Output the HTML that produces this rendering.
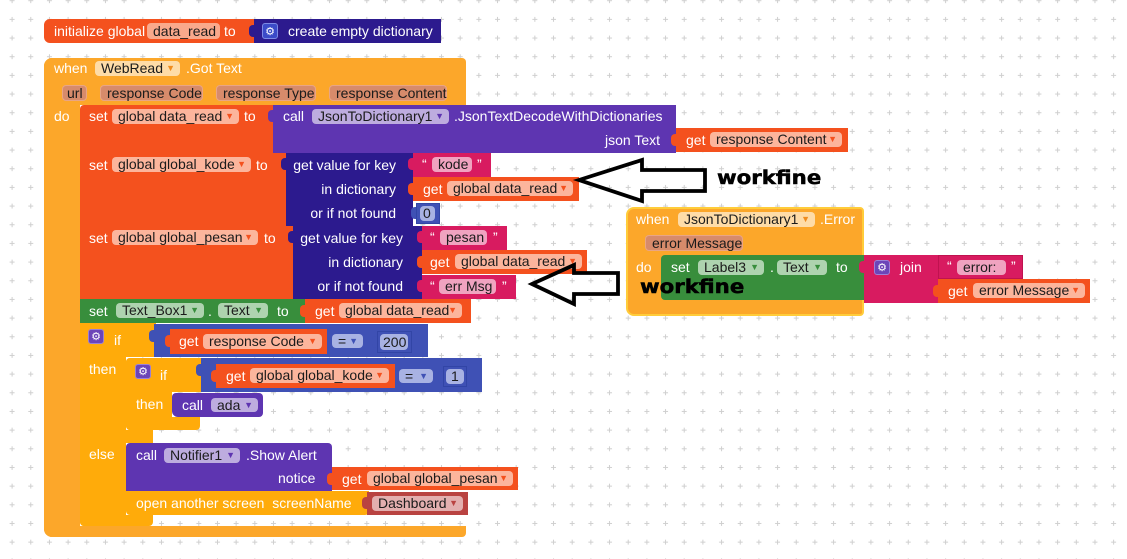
<!DOCTYPE html>
<html><head><meta charset="utf-8">
<style>
html,body{margin:0;padding:0}
body{width:1127px;height:559px;position:relative;overflow:hidden;background:#fff;font-family:"Liberation Sans",Arial,sans-serif}
.r{position:absolute;box-sizing:border-box}
.l{position:absolute;color:#fff;font-size:14px;line-height:16px;white-space:nowrap}
.rt{text-align:right}
.c{position:absolute;box-sizing:border-box;border-radius:4px;color:#1b1b1b;font-size:14px;white-space:nowrap;padding-left:6px}
.c i{position:absolute;right:5px;top:0;font-style:normal;font-size:9px}
.tab{position:absolute;width:6px;height:12px;border-radius:4px 0 0 4px}
.E{background:#FCA72A}.C{background:#FFAB0A}.V{background:#F4511E}.P{background:#5E35B1}
.D{background:#2C1A8E}.T{background:#D81B60}.M{background:#3F51B5}.G{background:#388E3C}.R{background:#B94341}
.cV{background:#FCB59C}.cV i{color:#F4511E}
.cE{background:#FEDCA8}.cE i{color:#F08C1E}
.cPar{background:#D78B6B;border:1px solid #E9A585}
.cP{background:#BDACDF}.cP i{color:#5E35B1}
.cT{background:#F0A3C0}
.cM{background:#A8B2E3}.cM i{color:#3F51B5}
.cG{background:#AED3AF}.cG i{color:#388E3C}
.cR{background:#E3AFAF}.cR i{color:#B94341}
.gear{position:absolute;box-sizing:border-box;border-radius:3px;color:#fff;font-family:"DejaVu Sans",sans-serif;font-size:11px;text-align:center}
.wf{position:absolute;font-family:"DejaVu Sans",sans-serif;font-weight:bold;font-size:18.5px;line-height:20px;color:#000;-webkit-text-stroke:0.5px #000;transform:scaleX(1.15);transform-origin:left top;white-space:nowrap;letter-spacing:0}
</style></head><body>

<svg width="1127" height="559" style="position:absolute;left:0;top:0">
<defs><pattern id="g" x="2.77" y="-8.63" width="18.67" height="18.67" patternUnits="userSpaceOnUse">
<path d="M6.83 9.33H11.83M9.33 6.83V11.83" stroke="#cfcfcf" stroke-width="1"/></pattern></defs>
<rect width="1127" height="559" fill="url(#g)"/>
</svg>

<!-- initialize global -->
<div class="r V" style="left:44px;top:19px;width:212px;height:24px;border-radius:6px 0 0 6px"></div>
<div class="l" style="left:54px;top:23px">initialize global</div>
<div class="c cV" style="left:147px;top:23px;width:73px;height:16px;line-height:16px;background:#F9A98C">data_read</div>
<div class="l" style="left:224px;top:23px">to</div>
<div class="tab D" style="left:249px;top:25px"></div>
<div class="r D" style="left:254px;top:19px;width:187px;height:24px"></div>
<div class="gear" style="left:262px;top:23px;width:16px;height:16px;line-height:15px;background:#3B4BC8;border:1px solid #7D8BE6">⚙</div>
<div class="l" style="left:288px;top:23px">create empty dictionary</div>

<!-- main event -->
<div class="r E" style="left:44px;top:58px;width:422px;height:47px;border-radius:8px 4px 0 0"></div>
<div class="r E" style="left:44px;top:58px;width:36px;height:479px;border-radius:8px 0 0 8px"></div>
<div class="r E" style="left:44px;top:526px;width:422px;height:11px;border-radius:0 0 4px 8px"></div>
<div class="l" style="left:54px;top:60px">when</div>
<div class="c cE" style="left:95px;top:61px;width:85px;height:15px;line-height:15px">WebRead<i>▼</i></div>
<div class="l" style="left:186px;top:60px">.Got Text</div>
<div class="c cPar" style="left:62px;top:85px;width:25px;height:16px;line-height:14px;padding-left:4px">url</div>
<div class="c cPar" style="left:100px;top:85px;width:103px;height:16px;line-height:14px">response Code</div>
<div class="c cPar" style="left:216px;top:85px;width:100px;height:16px;line-height:14px">response Type</div>
<div class="c cPar" style="left:329px;top:85px;width:118px;height:16px;line-height:14px">response Content</div>
<div class="l" style="left:54px;top:108px">do</div>

<!-- set global data_read -->
<div class="r V" style="left:80px;top:105px;width:195px;height:48px;border-radius:4px 0 0 0"></div>
<div class="l" style="left:89px;top:108px">set</div>
<div class="c cV" style="left:112px;top:109px;width:127px;height:15px;line-height:15px">global data_read<i>▼</i></div>
<div class="l" style="left:244px;top:108px">to</div>
<div class="tab P" style="left:268px;top:110px"></div>
<div class="r P" style="left:273px;top:105px;width:403px;height:48px"></div>
<div class="l" style="left:283px;top:108px">call</div>
<div class="c cP" style="left:312px;top:109px;width:137px;height:15px;line-height:15px">JsonToDictionary1<i>▼</i></div>
<div class="l" style="left:454px;top:108px">.JsonTextDecodeWithDictionaries</div>
<div class="l" style="left:605px;top:132px">json Text</div>
<div class="tab V" style="left:671px;top:134px"></div>
<div class="r V" style="left:676px;top:128px;width:172px;height:24px"></div>
<div class="l" style="left:686px;top:132px">get</div>
<div class="c cV" style="left:710px;top:132px;width:132px;height:15px;line-height:15px">response Content<i>▼</i></div>

<!-- set global_kode -->
<div class="r V" style="left:80px;top:153px;width:208px;height:73px"></div>
<div class="l" style="left:89px;top:157px">set</div>
<div class="c cV" style="left:112px;top:157px;width:139px;height:15px;line-height:15px">global global_kode<i>▼</i></div>
<div class="l" style="left:256px;top:157px">to</div>
<div class="tab D" style="left:281px;top:158px"></div>
<div class="r D" style="left:286px;top:153px;width:127px;height:73px"></div>
<div class="l rt" style="left:286px;width:110px;top:157px">get value for key</div>
<div class="l rt" style="left:286px;width:110px;top:181px">in dictionary</div>
<div class="l rt" style="left:286px;width:110px;top:205px">or if not found</div>
<div class="tab T" style="left:408px;top:158px"></div>
<div class="r T" style="left:413px;top:153px;width:78px;height:24px"></div>
<div class="l" style="left:422px;top:156px">“</div>
<div class="c cT" style="left:432px;top:157px;width:40px;height:15px;line-height:15px">kode</div>
<div class="l" style="left:477px;top:156px">”</div>
<div class="tab V" style="left:408px;top:183px"></div>
<div class="r V" style="left:413px;top:177px;width:166px;height:24px"></div>
<div class="l" style="left:423px;top:181px">get</div>
<div class="c cV" style="left:447px;top:181px;width:126px;height:15px;line-height:15px">global data_read<i>▼</i></div>
<div class="tab M" style="left:411px;top:207px"></div>
<div class="r M" style="left:416px;top:203px;width:24px;height:21px;border:1px solid #3245A6"></div>
<div class="c cM" style="left:420px;top:206px;width:15px;height:15px;line-height:15px;padding-left:3px">0</div>

<!-- set global_pesan -->
<div class="r V" style="left:80px;top:226px;width:215px;height:73px"></div>
<div class="l" style="left:89px;top:230px">set</div>
<div class="c cV" style="left:112px;top:230px;width:146px;height:15px;line-height:15px">global global_pesan<i>▼</i></div>
<div class="l" style="left:264px;top:230px">to</div>
<div class="tab D" style="left:288px;top:231px"></div>
<div class="r D" style="left:293px;top:226px;width:129px;height:73px"></div>
<div class="l rt" style="left:293px;width:110px;top:230px">get value for key</div>
<div class="l rt" style="left:293px;width:110px;top:254px">in dictionary</div>
<div class="l rt" style="left:293px;width:110px;top:278px">or if not found</div>
<div class="tab T" style="left:417px;top:231px"></div>
<div class="r T" style="left:422px;top:226px;width:85px;height:24px"></div>
<div class="l" style="left:430px;top:229px">“</div>
<div class="c cT" style="left:440px;top:230px;width:47px;height:15px;line-height:15px">pesan</div>
<div class="l" style="left:493px;top:229px">”</div>
<div class="tab V" style="left:417px;top:256px"></div>
<div class="r V" style="left:422px;top:250px;width:165px;height:24px"></div>
<div class="l" style="left:430px;top:254px">get</div>
<div class="c cV" style="left:455px;top:254px;width:127px;height:15px;line-height:15px">global data_read<i>▼</i></div>
<div class="tab T" style="left:417px;top:280px"></div>
<div class="r T" style="left:422px;top:275px;width:94px;height:24px"></div>
<div class="l" style="left:430px;top:278px">“</div>
<div class="c cT" style="left:439px;top:279px;width:57px;height:15px;line-height:15px">err Msg</div>
<div class="l" style="left:502px;top:278px">”</div>

<!-- set Text_Box1 -->
<div class="r G" style="left:80px;top:299px;width:227px;height:24px"></div>
<div class="l" style="left:89px;top:303px">set</div>
<div class="c cG" style="left:116px;top:303px;width:88px;height:15px;line-height:15px">Text_Box1<i>▼</i></div>
<div class="l" style="left:208px;top:303px">.</div>
<div class="c cG" style="left:218px;top:303px;width:50px;height:15px;line-height:15px">Text<i>▼</i></div>
<div class="l" style="left:277px;top:303px">to</div>
<div class="tab V" style="left:300px;top:305px"></div>
<div class="r V" style="left:305px;top:299px;width:166px;height:24px"></div>
<div class="l" style="left:315px;top:303px">get</div>
<div class="c cV" style="left:339px;top:303px;width:123px;height:15px;line-height:15px">global data_read<i>▼</i></div>

<!-- outer if -->
<div class="r C" style="left:80px;top:323px;width:76px;height:34px"></div>
<div class="r C" style="left:80px;top:323px;width:46px;height:203px;border-radius:0 0 0 4px"></div>
<div class="r C" style="left:80px;top:430px;width:73px;height:13px"></div>
<div class="r C" style="left:80px;top:515px;width:73px;height:11px;border-radius:0 0 4px 4px"></div>
<div class="gear" style="left:88px;top:329px;width:16px;height:15px;line-height:14px;background:#6C45B8;border:1px solid #9A80D8">⚙</div>
<div class="l" style="left:114px;top:332px">if</div>
<div class="l" style="left:89px;top:361px">then</div>
<div class="l" style="left:89px;top:446px">else</div>
<div class="tab M" style="left:149px;top:330px"></div>
<div class="r M" style="left:154px;top:324px;width:274px;height:33px"></div>
<div class="tab V" style="left:165px;top:335px"></div>
<div class="r V" style="left:170px;top:329px;width:157px;height:25px"></div>
<div class="l" style="left:179px;top:333px">get</div>
<div class="c cV" style="left:203px;top:334px;width:119px;height:15px;line-height:15px">response Code<i>▼</i></div>
<div class="c cM" style="left:332px;top:334px;width:31px;height:14px;line-height:14px">=<i>▼</i></div>
<div class="tab M" style="left:372px;top:336px"></div>
<div class="r M" style="left:377px;top:331px;width:35px;height:22px;border:1px solid #3245A6"></div>
<div class="c cM" style="left:380px;top:334px;width:28px;height:16px;line-height:16px;padding-left:3px">200</div>

<!-- inner if -->
<div class="r C" style="left:126px;top:358px;width:77px;height:34px;border-radius:4px 0 0 0"></div>
<div class="r C" style="left:126px;top:358px;width:46px;height:72px;border-radius:4px 0 0 4px"></div>
<div class="r C" style="left:126px;top:417px;width:74px;height:13px;border-radius:0 0 4px 4px"></div>
<div class="gear" style="left:135px;top:364px;width:16px;height:15px;line-height:14px;background:#6C45B8;border:1px solid #9A80D8">⚙</div>
<div class="l" style="left:160px;top:367px">if</div>
<div class="l" style="left:136px;top:396px">then</div>
<div class="tab M" style="left:196px;top:364px"></div>
<div class="r M" style="left:201px;top:358px;width:281px;height:34px"></div>
<div class="tab V" style="left:211px;top:370px"></div>
<div class="r V" style="left:216px;top:364px;width:179px;height:24px"></div>
<div class="l" style="left:226px;top:368px">get</div>
<div class="c cV" style="left:250px;top:368px;width:139px;height:15px;line-height:15px">global global_kode<i>▼</i></div>
<div class="c cM" style="left:399px;top:369px;width:34px;height:14px;line-height:14px">=<i>▼</i></div>
<div class="tab M" style="left:438px;top:371px"></div>
<div class="r M" style="left:443px;top:366px;width:24px;height:21px;border:1px solid #3245A6"></div>
<div class="c cM" style="left:446px;top:369px;width:18px;height:15px;line-height:15px;padding-left:5px">1</div>
<div class="r P" style="left:172px;top:393px;width:91px;height:24px;border-radius:4px 4px 4px 6px"></div>
<div class="l" style="left:182px;top:397px">call</div>
<div class="c cP" style="left:211px;top:398px;width:47px;height:14px;line-height:14px">ada<i>▼</i></div>

<!-- Notifier -->
<div class="r P" style="left:126px;top:443px;width:206px;height:48px;border-radius:4px 4px 0 0"></div>
<div class="l" style="left:136px;top:447px">call</div>
<div class="c cP" style="left:164px;top:448px;width:76px;height:15px;line-height:15px">Notifier1<i>▼</i></div>
<div class="l" style="left:246px;top:447px">.Show Alert</div>
<div class="l" style="left:278px;top:470px">notice</div>
<div class="tab V" style="left:327px;top:473px"></div>
<div class="r V" style="left:332px;top:467px;width:186px;height:23px"></div>
<div class="l" style="left:342px;top:471px">get</div>
<div class="c cV" style="left:367px;top:471px;width:146px;height:15px;line-height:15px">global global_pesan<i>▼</i></div>
<div class="r C" style="left:126px;top:491px;width:243px;height:24px;border-radius:0 0 4px 4px"></div>
<div class="l" style="left:136px;top:495px">open another screen&nbsp; screenName</div>
<div class="tab R" style="left:362px;top:497px"></div>
<div class="r R" style="left:367px;top:492px;width:101px;height:23px"></div>
<div class="c cR" style="left:372px;top:496px;width:91px;height:15px;line-height:15px">Dashboard<i>▼</i></div>

<!-- Error event -->
<div class="r E" style="left:626px;top:207px;width:238px;height:109px;border:2px solid #FFCC3A;border-radius:8px 4px 4px 8px"></div>
<div class="l" style="left:636px;top:211px">when</div>
<div class="c cE" style="left:678px;top:212px;width:137px;height:15px;line-height:15px">JsonToDictionary1<i>▼</i></div>
<div class="l" style="left:820px;top:211px">.Error</div>
<div class="c cPar" style="left:645px;top:235px;width:98px;height:16px;line-height:14px">error Message</div>
<div class="l" style="left:636px;top:259px">do</div>
<div class="r G" style="left:661px;top:255px;width:205px;height:45px;border-radius:4px 0 0 4px"></div>
<div class="l" style="left:671px;top:259px">set</div>
<div class="c cG" style="left:698px;top:260px;width:66px;height:15px;line-height:15px">Label3<i>▼</i></div>
<div class="l" style="left:770px;top:259px">.</div>
<div class="c cG" style="left:777px;top:260px;width:50px;height:15px;line-height:15px">Text<i>▼</i></div>
<div class="l" style="left:836px;top:259px">to</div>
<div class="tab T" style="left:859px;top:261px"></div>
<div class="r T" style="left:864px;top:255px;width:74px;height:48px"></div>
<div class="gear" style="left:874px;top:260px;width:16px;height:15px;line-height:14px;background:#6C45B8;border:1px solid #9A80D8">⚙</div>
<div class="l" style="left:900px;top:259px">join</div>
<div class="tab T" style="left:933px;top:260px"></div>
<div class="r T" style="left:938px;top:255px;width:85px;height:24px;border:1px solid #C0124F"></div>
<div class="l" style="left:947px;top:258px">“</div>
<div class="c cT" style="left:957px;top:260px;width:49px;height:15px;line-height:15px">error:</div>
<div class="l" style="left:1011px;top:258px">”</div>
<div class="tab V" style="left:933px;top:285px"></div>
<div class="r V" style="left:938px;top:279px;width:152px;height:24px"></div>
<div class="l" style="left:948px;top:283px">get</div>
<div class="c cV" style="left:973px;top:283px;width:112px;height:15px;line-height:15px">error Message<i>▼</i></div>

<!-- annotations -->
<svg width="1127" height="559" style="position:absolute;left:0;top:0">
<polygon points="579,180 642,160 642,170 705,170 705,191 642,191 642,201" fill="none" stroke="#000" stroke-width="3.8" stroke-linejoin="miter"/>
<polygon points="532,284 574,265 574,273 618,273 618,294 574,294 574,304" fill="none" stroke="#000" stroke-width="3.8" stroke-linejoin="miter"/>
</svg>
<div class="wf" style="left:717px;top:169px">workfine</div>
<div class="wf" style="left:640px;top:278px">workfine</div>

</body></html>
